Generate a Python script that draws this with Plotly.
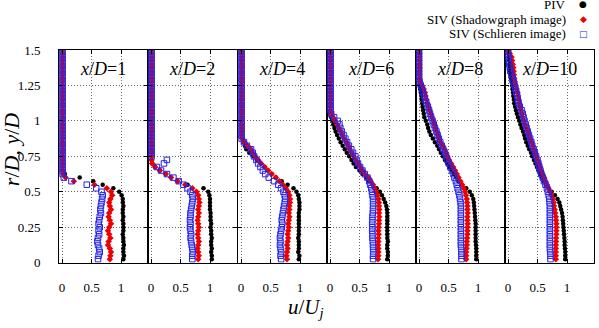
import plotly.graph_objects as go

# ---------------- data ----------------
PANEL_LABELS = ["1", "2", "4", "6", "8", "10"]
X_TICKS = [0, 0.5, 1]
X_TICK_TEXT = ["0", "0.5", "1"]
Y_TICKS = [0, 0.25, 0.5, 0.75, 1, 1.25, 1.5]
Y_TICK_TEXT = ["0", "0.25", "0.5", "0.75", "1", "1.25", "1.5"]

Y_LEVELS = [0.025, 0.05, 0.075, 0.1, 0.125, 0.15, 0.175, 0.2, 0.225, 0.25,
            0.275, 0.3, 0.325, 0.35, 0.375, 0.4, 0.425, 0.45, 0.475, 0.5,
            0.525, 0.55, 0.575, 0.6, 0.625, 0.65, 0.675, 0.7, 0.725, 0.75,
            0.775, 0.8, 0.825, 0.85, 0.875, 0.9, 0.925, 0.95, 0.975, 1.0,
            1.025, 1.05, 1.075, 1.1, 1.125, 1.15, 1.175, 1.2, 1.225, 1.25,
            1.275, 1.3, 1.325, 1.35, 1.375, 1.4, 1.425, 1.45, 1.475, 1.5]

# x/D = 1
PIV_X1 = [1.04, 1.05, 1.04, 1.04, 1.05, 1.04, 1.04, 1.03, 1.04, 1.04,
          1.04, 1.03, 1.04, 1.03, 1.03, 1.04, 1.03, 1.03, 1.01, 0.97,
          0.87, 0.69, 0.53, 0.30, 0.05, 0.01, 0.01, 0.01, 0.01, 0.01,
          0.01, 0.01, 0.01, 0.01, 0.01, 0.01, 0.01, 0.01, 0.01, 0.01,
          0.01, 0.01, 0.01, 0.01, 0.01, 0.01, 0.01, 0.01, 0.01, 0.01,
          0.01, 0.01, 0.01, 0.01, 0.01, 0.01, 0.01, 0.01, 0.01, 0.01]
SHADOW_X1 = [0.81, 0.82, 0.83, 0.81, 0.78, 0.79, 0.82, 0.80, 0.78, 0.80,
             0.83, 0.81, 0.79, 0.80, 0.83, 0.81, 0.80, 0.82, 0.85, 0.83,
             0.76, 0.55, 0.20, 0.06, 0.02, 0.01, 0.01, 0.01, 0.01, 0.01,
             0.01, 0.01, 0.01, 0.01, 0.01, 0.01, 0.01, 0.01, 0.01, 0.01,
             0.01, 0.01, 0.01, 0.01, 0.01, 0.01, 0.01, 0.01, 0.01, 0.01,
             0.01, 0.01, 0.01, 0.01, 0.01, 0.01, 0.01, 0.01, 0.01, 0.01]
SCHL_X1 = [0.61, 0.62, 0.64, 0.63, 0.61, 0.60, 0.61, 0.63, 0.62, 0.64,
           0.62, 0.63, 0.64, 0.66, 0.65, 0.66, 0.67, 0.68, 0.69, 0.67,
           0.58, 0.42, 0.16, 0.03, 0.01, 0.01, 0.01, 0.01, 0.01, 0.01,
           0.01, 0.01, 0.01, 0.01, 0.01, 0.01, 0.01, 0.01, 0.01, 0.01,
           0.01, 0.01, 0.01, 0.01, 0.01, 0.01, 0.01, 0.01, 0.01, 0.01,
           0.01, 0.01, 0.01, 0.01, 0.01, 0.01, 0.01, 0.01, 0.01, 0.01]

# x/D = 2
PIV_X2 = [1.03, 1.03, 1.02, 1.03, 1.02, 1.02, 1.03, 1.02, 1.02, 1.01,
          1.02, 1.01, 1.01, 1.01, 1.00, 1.00, 1.00, 1.00, 0.99, 0.97,
          0.89, 0.62, 0.45, 0.34, 0.25, 0.15, 0.07, 0.02, 0.01, 0.01,
          0.01, 0.01, 0.01, 0.01, 0.01, 0.01, 0.01, 0.01, 0.01, 0.01,
          0.01, 0.01, 0.01, 0.01, 0.01, 0.01, 0.01, 0.01, 0.01, 0.01,
          0.01, 0.01, 0.01, 0.01, 0.01, 0.01, 0.01, 0.01, 0.01, 0.01]
SHADOW_X2 = [0.80, 0.81, 0.80, 0.79, 0.80, 0.81, 0.80, 0.79, 0.80, 0.81,
             0.80, 0.79, 0.80, 0.81, 0.80, 0.81, 0.82, 0.81, 0.80, 0.77,
             0.70, 0.58, 0.45, 0.34, 0.25, 0.15, 0.07, 0.02, 0.01, 0.01,
             0.01, 0.01, 0.01, 0.01, 0.01, 0.01, 0.01, 0.01, 0.01, 0.01,
             0.01, 0.01, 0.01, 0.01, 0.01, 0.01, 0.01, 0.01, 0.01, 0.01,
             0.01, 0.01, 0.01, 0.01, 0.01, 0.01, 0.01, 0.01, 0.01, 0.01]
SCHL_X2 = [0.70, 0.70, 0.71, 0.70, 0.69, 0.68, 0.67, 0.68, 0.67, 0.66,
           0.67, 0.66, 0.67, 0.67, 0.68, 0.69, 0.70, 0.71, 0.70, 0.67,
           0.62, 0.55, 0.47, 0.38, 0.27, 0.17, 0.10, 0.22, 0.27, 0.01,
           0.01, 0.01, 0.01, 0.01, 0.01, 0.01, 0.01, 0.01, 0.01, 0.01,
           0.01, 0.01, 0.01, 0.01, 0.01, 0.01, 0.01, 0.01, 0.01, 0.01,
           0.01, 0.01, 0.01, 0.01, 0.01, 0.01, 0.01, 0.01, 0.01, 0.01]

# x/D = 4
PIV_X3 = [0.98, 0.99, 0.97, 0.98, 0.98, 0.98, 0.97, 0.98, 0.98, 0.98,
          0.98, 0.98, 0.98, 0.98, 0.99, 0.99, 0.99, 0.98, 0.97, 0.94,
          0.89, 0.79, 0.69, 0.59, 0.52, 0.46, 0.40, 0.335, 0.27, 0.21,
          0.14, 0.09, 0.065, 0.05, 0.02, 0.01, 0.01, 0.01, 0.01, 0.01,
          0.01, 0.01, 0.01, 0.01, 0.01, 0.01, 0.01, 0.01, 0.01, 0.01,
          0.01, 0.01, 0.01, 0.01, 0.01, 0.01, 0.01, 0.01, 0.01, 0.01]
SHADOW_X3 = [0.78, 0.77, 0.78, 0.79, 0.78, 0.79, 0.80, 0.79, 0.80, 0.81,
             0.80, 0.81, 0.82, 0.81, 0.82, 0.82, 0.83, 0.83, 0.82, 0.80,
             0.76, 0.71, 0.65, 0.59, 0.52, 0.46, 0.40, 0.34, 0.29, 0.24,
             0.20, 0.17, 0.11, 0.06, 0.02, 0.01, 0.01, 0.01, 0.01, 0.01,
             0.01, 0.01, 0.01, 0.01, 0.01, 0.01, 0.01, 0.01, 0.01, 0.01,
             0.01, 0.01, 0.01, 0.01, 0.01, 0.01, 0.01, 0.01, 0.01, 0.01]
SCHL_X3 = [0.68, 0.67, 0.68, 0.67, 0.66, 0.67, 0.66, 0.67, 0.68, 0.69,
           0.70, 0.69, 0.70, 0.71, 0.72, 0.73, 0.74, 0.75, 0.74, 0.72,
           0.68, 0.63, 0.56, 0.47, 0.41, 0.37, 0.33, 0.29, 0.26, 0.22,
           0.20, 0.17, 0.10, 0.05, 0.01, 0.01, 0.01, 0.01, 0.01, 0.01,
           0.01, 0.01, 0.01, 0.01, 0.01, 0.01, 0.01, 0.01, 0.01, 0.01,
           0.01, 0.01, 0.01, 0.01, 0.01, 0.01, 0.01, 0.01, 0.01, 0.01]

# x/D = 6
PIV_X4 = [0.97, 0.98, 0.98, 0.97, 0.97, 0.98, 0.97, 0.97, 0.97, 0.97,
          0.97, 0.97, 0.97, 0.97, 0.965, 0.955, 0.935, 0.91, 0.88, 0.845,
          0.79, 0.725, 0.665, 0.61, 0.55, 0.50, 0.44, 0.40, 0.365, 0.325,
          0.285, 0.25, 0.215, 0.18, 0.15, 0.12, 0.095, 0.075, 0.055, 0.04,
          0.02, 0.01, 0.01, 0.01, 0.01, 0.01, 0.01, 0.01, 0.01, 0.01,
          0.01, 0.01, 0.01, 0.01, 0.01, 0.01, 0.01, 0.01, 0.01, 0.01]
SHADOW_X4 = [0.815, 0.82, 0.82, 0.82, 0.815, 0.82, 0.82, 0.825, 0.82, 0.825,
             0.83, 0.83, 0.835, 0.83, 0.835, 0.83, 0.83, 0.82, 0.805, 0.78,
             0.755, 0.73, 0.69, 0.65, 0.59, 0.555, 0.515, 0.475, 0.435, 0.40,
             0.37, 0.335, 0.31, 0.28, 0.24, 0.21, 0.185, 0.15, 0.12, 0.09,
             0.05, 0.02, 0.01, 0.01, 0.01, 0.01, 0.01, 0.01, 0.01, 0.01,
             0.01, 0.01, 0.01, 0.01, 0.01, 0.01, 0.01, 0.01, 0.01, 0.01]
SCHL_X4 = [0.73, 0.73, 0.735, 0.73, 0.73, 0.725, 0.72, 0.72, 0.715, 0.72,
           0.715, 0.72, 0.72, 0.725, 0.73, 0.73, 0.73, 0.73, 0.72, 0.71,
           0.70, 0.68, 0.665, 0.635, 0.59, 0.55, 0.51, 0.475, 0.45, 0.43,
           0.39, 0.36, 0.32, 0.29, 0.26, 0.23, 0.20, 0.175, 0.16, 0.13,
           0.07, 0.02, 0.01, 0.01, 0.01, 0.01, 0.01, 0.01, 0.01, 0.01,
           0.01, 0.01, 0.01, 0.01, 0.01, 0.01, 0.01, 0.01, 0.01, 0.01]

# x/D = 8
PIV_X5 = [0.97, 0.97, 0.97, 0.97, 0.965, 0.96, 0.96, 0.96, 0.96, 0.96,
          0.96, 0.955, 0.95, 0.945, 0.94, 0.935, 0.93, 0.92, 0.895, 0.86,
          0.80, 0.73, 0.67, 0.63, 0.59, 0.56, 0.52, 0.48, 0.44, 0.405,
          0.37, 0.34, 0.31, 0.27, 0.235, 0.20, 0.175, 0.155, 0.14, 0.115,
          0.09, 0.08, 0.07, 0.06, 0.055, 0.045, 0.04, 0.03, 0.02, 0.015,
          0.01, 0.005, 0.005, 0.005, 0.005, 0.005, 0.005, 0.005, 0.005, 0.005]
SHADOW_X5 = [0.80, 0.80, 0.80, 0.805, 0.81, 0.81, 0.815, 0.82, 0.82, 0.82,
             0.825, 0.82, 0.82, 0.825, 0.82, 0.82, 0.815, 0.81, 0.795, 0.78,
             0.76, 0.73, 0.70, 0.67, 0.64, 0.61, 0.58, 0.545, 0.51, 0.48,
             0.455, 0.43, 0.40, 0.365, 0.34, 0.32, 0.30, 0.28, 0.26, 0.24,
             0.22, 0.20, 0.18, 0.16, 0.14, 0.125, 0.11, 0.10, 0.08, 0.05,
             0.02, 0.01, 0.01, 0.01, 0.01, 0.01, 0.01, 0.01, 0.01, 0.01]
SCHL_X5 = [0.72, 0.72, 0.72, 0.715, 0.71, 0.71, 0.71, 0.71, 0.71, 0.71,
           0.71, 0.71, 0.71, 0.71, 0.71, 0.71, 0.705, 0.695, 0.685, 0.67,
           0.655, 0.64, 0.625, 0.60, 0.585, 0.56, 0.53, 0.505, 0.48, 0.46,
           0.44, 0.41, 0.385, 0.36, 0.335, 0.315, 0.295, 0.27, 0.25, 0.23,
           0.205, 0.185, 0.17, 0.15, 0.125, 0.10, 0.085, 0.065, 0.05, 0.03,
           0.01, 0.0, 0.0, 0.0, 0.0, 0.0, 0.0, 0.0, 0.0, 0.0]

# x/D = 10
PIV_X6 = [0.97, 0.97, 0.97, 0.965, 0.96, 0.96, 0.955, 0.95, 0.945, 0.94,
          0.935, 0.93, 0.925, 0.915, 0.90, 0.885, 0.87, 0.84, 0.795, 0.74,
          0.69, 0.64, 0.605, 0.57, 0.545, 0.515, 0.49, 0.465, 0.44, 0.41,
          0.39, 0.36, 0.335, 0.31, 0.29, 0.275, 0.255, 0.23, 0.21, 0.19,
          0.17, 0.15, 0.135, 0.12, 0.105, 0.10, 0.09, 0.085, 0.075, 0.07,
          0.06, 0.05, 0.045, 0.035, 0.03, 0.025, 0.02, 0.015, 0.01, 0.0]
SHADOW_X6 = [0.81, 0.81, 0.81, 0.81, 0.81, 0.815, 0.815, 0.82, 0.82, 0.82,
             0.82, 0.815, 0.81, 0.80, 0.79, 0.78, 0.775, 0.76, 0.735, 0.71,
             0.685, 0.66, 0.635, 0.61, 0.585, 0.56, 0.545, 0.525, 0.50, 0.48,
             0.46, 0.44, 0.42, 0.40, 0.375, 0.355, 0.335, 0.31, 0.29, 0.27,
             0.25, 0.235, 0.22, 0.205, 0.19, 0.18, 0.17, 0.16, 0.145, 0.13,
             0.115, 0.105, 0.10, 0.095, 0.09, 0.08, 0.07, 0.06, 0.03, 0.01]
SCHL_X6 = [0.72, 0.72, 0.715, 0.71, 0.71, 0.71, 0.71, 0.71, 0.71, 0.71,
           0.71, 0.71, 0.71, 0.71, 0.71, 0.71, 0.705, 0.70, 0.69, 0.675,
           0.66, 0.635, 0.61, 0.59, 0.565, 0.55, 0.53, 0.515, 0.50, 0.475,
           0.455, 0.435, 0.41, 0.395, 0.375, 0.355, 0.335, 0.315, 0.30, 0.28,
           0.265, 0.25, 0.23, 0.20, 0.18, 0.165, 0.155, 0.14, 0.125, 0.11,
           0.095, 0.08, 0.06, 0.04, 0.03, 0.02, 0.015, 0.01, 0.0, 0.0]

PIV_SETS = [PIV_X1, PIV_X2, PIV_X3, PIV_X4, PIV_X5, PIV_X6]
SHADOW_SETS = [SHADOW_X1, SHADOW_X2, SHADOW_X3, SHADOW_X4, SHADOW_X5, SHADOW_X6]
SCHL_SETS = [SCHL_X1, SCHL_X2, SCHL_X3, SCHL_X4, SCHL_X5, SCHL_X6]

# ---------------- figure ----------------
W, H = 599, 328
FONT = "Liberation Serif, Times New Roman, DejaVu Serif, serif"
panel_left_px = [59, 148, 238, 327, 416, 505]
panel_w_px = 89
plot_top_px, plot_bot_px = 45, 268

fig = go.Figure()
layout = dict(
    width=W, height=H, margin=dict(l=0, r=0, t=0, b=0),
    paper_bgcolor="white", plot_bgcolor="white", showlegend=False,
    font=dict(family=FONT, size=13, color="black"),
)

ydom = [1 - plot_bot_px / H, 1 - plot_top_px / H]
annotations = []
for i in range(6):
    n = "" if i == 0 else str(i + 1)
    xa, ya = "x" + n, "y" + n
    fig.add_trace(go.Scatter(x=PIV_SETS[i], y=Y_LEVELS, xaxis=xa, yaxis=ya, mode="markers",
                             marker=dict(symbol="circle", size=4.5, color="black"), name="PIV"))
    fig.add_trace(go.Scatter(x=SHADOW_SETS[i], y=Y_LEVELS, xaxis=xa, yaxis=ya, mode="markers",
                             marker=dict(symbol="diamond", size=5, color="#ee0000"),
                             name="SIV (Shadowgraph image)"))
    fig.add_trace(go.Scatter(x=SCHL_SETS[i], y=Y_LEVELS, xaxis=xa, yaxis=ya, mode="markers",
                             marker=dict(symbol="square-open", size=5.5, color="#2222ee",
                                         line=dict(width=1)),
                             name="SIV (Schlieren image)"))
    l = panel_left_px[i]
    layout["xaxis" + n] = dict(
        domain=[l / W, (l + panel_w_px) / W], range=[-3 / 59, 86 / 59], anchor=ya,
        tickvals=X_TICKS, ticktext=X_TICK_TEXT, showgrid=True, gridcolor="#666",
        griddash="1px,2px", gridwidth=1, zeroline=False, showline=True, linecolor="black",
        linewidth=1, mirror="ticks", ticks="inside", ticklen=4, tickcolor="black",
        ticklabelstandoff=13,
        tickfont=dict(family=FONT, size=13, color="black"), fixedrange=True,
    )
    layout["yaxis" + n] = dict(
        domain=ydom, range=[0, 1.5], anchor=xa, tickvals=Y_TICKS, ticktext=Y_TICK_TEXT,
        showticklabels=(i == 0), showgrid=True, gridcolor="#666", griddash="1px,2px",
        gridwidth=1, zeroline=False, showline=True, linecolor="black", linewidth=1,
        mirror="ticks", ticks="inside", ticklen=4, tickcolor="black",
        ticklabelstandoff=15,
        tickfont=dict(family=FONT, size=13, color="black"), fixedrange=True,
    )
    annotations.append(dict(
        text="<i>x</i>/<i>D</i>=" + PANEL_LABELS[i], xref=xa, yref=ya, x=0.695, y=1.365,
        showarrow=False, xanchor="center", yanchor="middle",
        font=dict(family=FONT, size=18, color="black"),
    ))

# axis titles
annotations.append(dict(text="<i>r</i>/<i>D</i>, <i>y</i>/<i>D</i>", xref="paper", yref="paper",
                        x=11 / W, y=1 - 150 / H, xanchor="center", yanchor="middle",
                        textangle=-90, showarrow=False,
                        font=dict(family=FONT, size=22, color="black")))
annotations.append(dict(text="<i>u</i>/<i>U<sub>j</sub></i>", xref="paper", yref="paper",
                        x=306 / W, y=1 - 315 / H, xanchor="center", yanchor="middle",
                        showarrow=False,
                        font=dict(family=FONT, size=21, color="black")))

# legend (text left of symbol, as in the original)
legend_rows = [("PIV", "●", "black", -3), ("SIV (Shadowgraph image)", "◆", "#ee0000", 13),
               ("SIV (Schlieren image)", "□", "#2222ee", 28)]
for txt, sym, col, ypx in legend_rows:
    annotations.append(dict(text=txt, xref="paper", yref="paper", x=568 / W, y=1 - ypx / H,
                            xanchor="right", yanchor="middle", showarrow=False,
                            font=dict(family=FONT, size=13, color="black")))
    annotations.append(dict(text=sym, xref="paper", yref="paper", x=583 / W, y=1 - ypx / H,
                            xanchor="center", yanchor="middle", showarrow=False,
                            font=dict(family="DejaVu Sans", size=9, color=col)))

layout["annotations"] = annotations
fig.update_layout(**layout)
fig.write_html("out.html")
